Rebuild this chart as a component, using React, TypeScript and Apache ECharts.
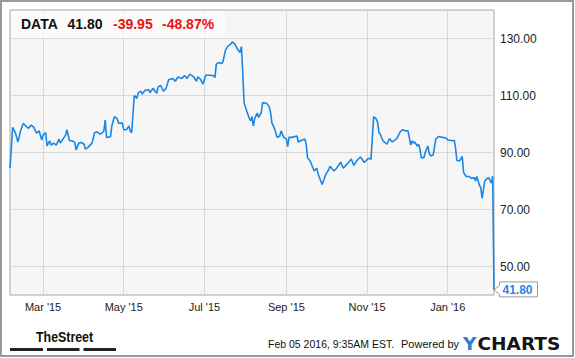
import React, { useEffect, useRef } from 'react';
import * as echarts from 'echarts';

// ---- data: day-of-month and closing price per month ----
const feb15Days = [4, 6, 8, 10, 12, 14, 16, 18, 20, 22, 24, 26, 28];
const feb15Prices = [84.5, 98.8, 97.0, 93.7, 97.6, 100.2, 99.3, 98.5, 99.6, 98.8, 96.8, 97.6, 94.4];
const mar15Days = [1, 3, 4, 6, 7, 9, 11, 13, 14, 16, 18, 19, 21, 23, 25, 26, 28, 30];
const mar15Prices = [96.1, 97.0, 92.3, 94.1, 92.6, 93.3, 92.6, 94.7, 93.3, 94.7, 96.1, 98.0, 94.1, 94.1, 93.5, 90.9, 93.3, 93.5];
const apr15Days = [1, 2, 4, 7, 9, 11, 13, 15, 16, 17, 18, 21, 22, 24, 26, 27, 30];
const apr15Prices = [92.9, 91.2, 91.8, 93.3, 97.0, 97.2, 96.4, 97.0, 97.6, 101.4, 95.3, 95.5, 99.3, 102.6, 101.9, 100.3, 100.3];
const may15Days = [1, 3, 5, 6, 7, 9, 11, 12, 14, 15, 17, 20, 21, 23, 26, 27, 29, 31];
const may15Prices = [98.0, 98.0, 99.3, 97.4, 97.0, 110, 109, 111, 111.5, 110.5, 111.8, 112, 111, 112.5, 110.8, 113, 113.5, 111.5];
const jun15Days = [2, 4, 7, 9, 11, 14, 16, 18, 20, 23, 25, 26, 28, 30];
const jun15Prices = [112.5, 115.5, 116, 115, 116.5, 116, 117, 116, 117.5, 116.5, 115, 116.5, 115.7, 114.0];
const jul15Days = [2, 6, 8, 9, 10, 12, 14, 15, 17, 19, 21, 22, 24, 25, 26, 28, 29, 30, 31];
const jul15Prices = [117.1, 117.1, 116.9, 116.3, 121.0, 121.6, 121.2, 121.8, 126.0, 127.4, 128.0, 128.8, 128.0, 127.2, 126.2, 125.1, 127.2, 118.1, 107.5];
const aug15Days = [2, 4, 5, 6, 7, 8, 10, 11, 13, 14, 17, 19, 20, 21, 23, 25, 27, 28, 30];
const aug15Prices = [104.6, 101.9, 101.1, 102.6, 99.3, 101.9, 103.8, 102.3, 104.0, 107.5, 107.3, 106.1, 104.2, 100.5, 98.4, 95.3, 95.8, 97.6, 95.3];
const sep15Days = [1, 2, 3, 5, 9, 10, 13, 15, 16, 17, 19, 22, 24, 25, 28];
const sep15Prices = [94.7, 92.1, 95.3, 95.3, 95.8, 93.7, 94.4, 94.7, 92.9, 88.2, 87.0, 83.5, 84.5, 82.4, 78.8];
const oct15Days = [1, 3, 4, 7, 9, 12, 14, 17, 20, 22, 24, 27, 30];
const oct15Prices = [82.5, 84, 85.2, 83.5, 84.5, 86.6, 84.5, 86, 87.7, 85.5, 87, 88.4, 86.5];
const nov15Days = [2, 4, 6, 8, 9, 10, 11, 13, 16, 18, 20, 23, 24, 26, 28, 30];
const nov15Prices = [88, 87.6, 102.6, 101.7, 100.5, 97.0, 96.4, 94.1, 92.9, 94.9, 93.7, 94.7, 95.3, 97.2, 98.0, 97.6];
const dec15Days = [2, 4, 5, 6, 7, 9, 10, 11, 12, 14, 15, 17, 18, 19, 21, 23, 25, 28, 31];
const dec15Prices = [97.6, 92.6, 94.1, 93.3, 93.7, 92.3, 92.9, 91.2, 88.2, 88.2, 90.0, 92.3, 89.8, 88.8, 89.1, 94.7, 95.6, 95.3, 95.0];
const jan16Days = [1, 5, 6, 7, 8, 10, 12, 13, 15, 17, 19, 21, 22, 23, 25, 26, 27, 29, 31];
const jan16Prices = [94.4, 94.1, 94.3, 91.2, 87.1, 87.1, 88.6, 83.0, 81.6, 81.6, 80.9, 81.2, 80.0, 81.6, 78.5, 77.7, 73.9, 80.0, 80.9];
const feb16Days = [1, 3, 4, 5];
const feb16Prices = [81.2, 79.2, 81.7, 41.8];

const monthBlocks: [number, number, number[], number[]][] = [
  [2015, 1, feb15Days, feb15Prices],
  [2015, 2, mar15Days, mar15Prices],
  [2015, 3, apr15Days, apr15Prices],
  [2015, 4, may15Days, may15Prices],
  [2015, 5, jun15Days, jun15Prices],
  [2015, 6, jul15Days, jul15Prices],
  [2015, 7, aug15Days, aug15Prices],
  [2015, 8, sep15Days, sep15Prices],
  [2015, 9, oct15Days, oct15Prices],
  [2015, 10, nov15Days, nov15Prices],
  [2015, 11, dec15Days, dec15Prices],
  [2016, 0, jan16Days, jan16Prices],
  [2016, 1, feb16Days, feb16Prices],
];

// axis ticks
const yTickValues = [50, 70, 90, 110, 130];
const xTickDates = ['2015-03-01', '2015-05-01', '2015-07-01', '2015-09-01', '2015-11-01', '2016-01-01'];
const xMinDate = '2015-02-04';
const xMaxDate = '2016-02-05';
const yMin = 40;
const yMax = 140;
const monthNames = ['Jan', 'Feb', 'Mar', 'Apr', 'May', 'Jun', 'Jul', 'Aug', 'Sep', 'Oct', 'Nov', 'Dec'];

// header / footer texts
const tickerText = 'DATA';
const priceText = '41.80';
const changeText = '-39.95';
const pctText = '-48.87%';
const stampText = 'Feb 05 2016, 9:35AM EST.';
const poweredText = 'Powered by';
const brandY = 'Y';
const brandRest = 'CHARTS';
const streetText = 'TheStreet';

const parseDay = (s: string) => {
  const [y, m, d] = s.split('-').map(Number);
  return new Date(y, m - 1, d).getTime();
};

const LINE_BLUE = '#1a87e4';
const FONT = 'Arial, "Liberation Sans", Helvetica, sans-serif';

export default function App() {
  const ref = useRef<HTMLDivElement>(null);

  useEffect(() => {
    if (!ref.current) return;
    const chart = echarts.init(ref.current, null, { renderer: 'svg' });

    const seriesData: [number, number][] = [];
    monthBlocks.forEach(([y, m, days, prices]) => {
      days.forEach((d, i) => seriesData.push([new Date(y, m, d).getTime(), prices[i]]));
    });

    chart.setOption({
      animation: false,
      backgroundColor: '#ffffff',
      grid: {
        left: 10,
        top: 10,
        width: 484,
        height: 285,
        show: true,
        backgroundColor: '#f6f6f6',
        borderColor: '#a8a8a8',
        borderWidth: 1,
      },
      xAxis: {
        type: 'value',
        min: parseDay(xMinDate),
        max: parseDay(xMaxDate),
        axisLine: { show: false },
        axisTick: { show: false, customValues: xTickDates.map(parseDay) },
        splitLine: { show: true, lineStyle: { color: '#d8d8d8', width: 1 } },
        axisLabel: {
          customValues: xTickDates.map(parseDay),
          margin: 6,
          fontSize: 11,
          fontFamily: FONT,
          color: '#222',
          formatter: (v: number) => {
            const d = new Date(v);
            return `${monthNames[d.getMonth()]} '${String(d.getFullYear()).slice(2)}`;
          },
        },
      },
      yAxis: {
        type: 'value',
        position: 'right',
        min: yMin,
        max: yMax,
        axisLine: { show: false },
        axisTick: { show: false, customValues: yTickValues },
        splitLine: { show: true, lineStyle: { color: '#d8d8d8', width: 1 } },
        axisLabel: {
          customValues: yTickValues,
          margin: 6,
          fontSize: 12,
          fontFamily: FONT,
          color: '#222',
          formatter: (v: number) => v.toFixed(2),
        },
      },
      series: [
        {
          type: 'line',
          data: seriesData,
          showSymbol: false,
          symbol: 'none',
          lineStyle: { color: LINE_BLUE, width: 1.6 },
          z: 5,
        },
      ],
    });

    const last = seriesData[seriesData.length - 1];
    const [px, py] = chart.convertToPixel({ xAxisIndex: 0, yAxisIndex: 0 }, last) as number[];
    const bx = px + 5.5;

    chart.setOption({
      graphic: [
        {
          type: 'rect',
          shape: { x: 1, y: 1, width: 572, height: 355 },
          style: { fill: 'none', stroke: '#999', lineWidth: 2 },
          silent: true,
        },
        {
          type: 'rect',
          shape: { x: 11, y: 11, width: 214, height: 27 },
          style: { fill: 'rgba(255,255,255,0.55)' },
          z: 10,
        },
        { type: 'text', x: 21, y: 24, z: 11, style: { text: tickerText, font: `bold 14px ${FONT}`, fill: '#111', verticalAlign: 'middle' } },
        { type: 'text', x: 67.5, y: 24, z: 11, style: { text: priceText, font: `bold 14px ${FONT}`, fill: '#111', verticalAlign: 'middle' } },
        { type: 'text', x: 113, y: 24, z: 11, style: { text: changeText, font: `bold 14px ${FONT}`, fill: '#ee1111', verticalAlign: 'middle' } },
        { type: 'text', x: 162, y: 24, z: 11, style: { text: pctText, font: `bold 14px ${FONT}`, fill: '#ee1111', verticalAlign: 'middle' } },
        {
          type: 'polygon',
          z: 12,
          shape: {
            points: [
              [px, py],
              [bx, py - 4.5],
              [bx, py - 8],
              [bx + 38, py - 8],
              [bx + 38, py + 7],
              [bx, py + 7],
              [bx, py + 4.5],
            ],
          },
          style: { fill: '#fff', stroke: '#999', lineWidth: 1 },
        },
        {
          type: 'text',
          z: 13,
          x: bx + 3,
          y: py,
          style: { text: last[1].toFixed(2), font: `bold 12px ${FONT}`, fill: '#1e88e5', verticalAlign: 'middle' },
        },
        {
          type: 'text',
          x: 36,
          y: 336,
          scaleX: 0.8,
          originX: 0,
          originY: 0,
          style: { text: streetText, font: `bold 15.5px ${FONT}`, fill: '#111', verticalAlign: 'middle' },
        },
        { type: 'rect', shape: { x: 10, y: 348, width: 33, height: 3 }, style: { fill: '#222' } },
        { type: 'rect', shape: { x: 47, y: 348, width: 32.5, height: 3 }, style: { fill: '#222' } },
        { type: 'rect', shape: { x: 83.5, y: 348, width: 32.5, height: 3 }, style: { fill: '#222' } },
        { type: 'text', x: 268, y: 344, style: { text: stampText, font: `10.5px ${FONT}`, fill: '#111', verticalAlign: 'middle' } },
        { type: 'text', x: 401, y: 344, style: { text: poweredText, font: `11px ${FONT}`, fill: '#111', verticalAlign: 'middle' } },
        { type: 'text', x: 463, y: 343, style: { text: brandY, font: `bold 18.5px "DejaVu Sans", ${FONT}`, fill: '#2a7ddc', verticalAlign: 'middle' } },
        { type: 'text', x: 477.5, y: 343, style: { text: brandRest, font: `bold 18.5px "DejaVu Sans", ${FONT}`, fill: '#161616', verticalAlign: 'middle' } },
      ],
    });

    return () => chart.dispose();
  }, []);

  return (
    <div
      ref={ref}
      style={{ position: 'fixed', left: 0, top: 0, width: 575, height: 358 }}
    />
  );
}
